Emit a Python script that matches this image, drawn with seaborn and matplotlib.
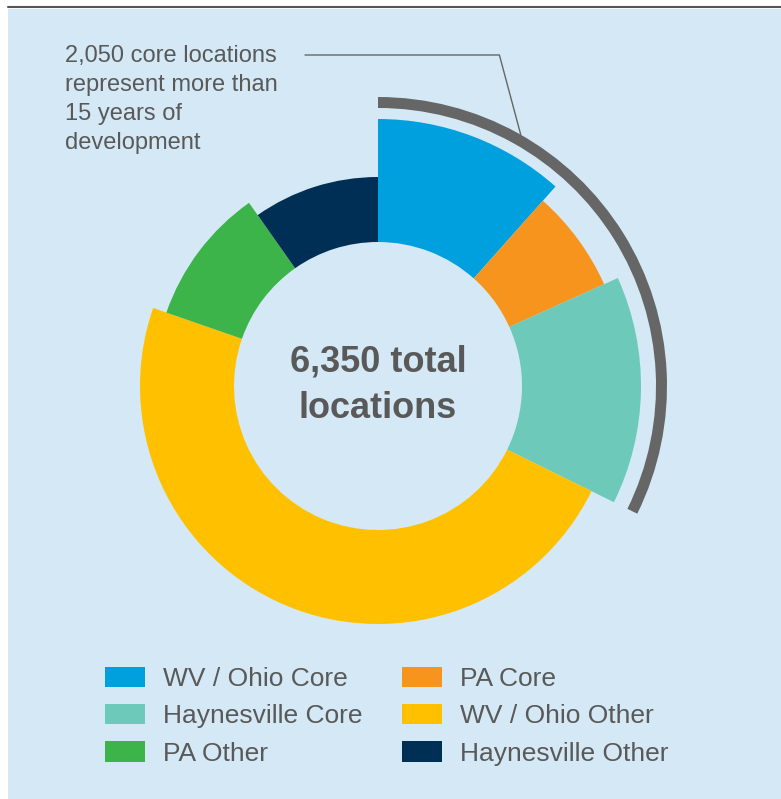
import numpy as np
import matplotlib
matplotlib.use("Agg")
import matplotlib.pyplot as plt
import seaborn as sns
from matplotlib.patches import Patch, Rectangle
from matplotlib.lines import Line2D

# ---- data ----
categories = ["WV / Ohio Core", "PA Core", "Haynesville Core",
              "WV / Ohio Other", "PA Other", "Haynesville Other"]
locations = [735, 425, 890, 3050, 630, 620]
is_core = [True, True, True, False, False, False]
center_label = "6,350 total\nlocations"
note_text = "2,050 core locations\nrepresent more than\n15 years of\ndevelopment"

# ---- styles ----
colors = sns.color_palette(["#00a0df", "#f7941d", "#6dcabb", "#ffc000", "#3cb44a", "#002f56"])
outer_r = [267, 248, 263, 238, 224, 209]
inner_r = 144
text_color = "#595959"

sns.set_theme(style="white")
plt.rcParams["font.family"] = ["Liberation Sans", "DejaVu Sans"]

W, H = 781, 799
fig = plt.figure(figsize=(W / 100, H / 100), dpi=100, facecolor="white")
fig.patches.append(Rectangle((8 / W, 0), 1 - 8 / W, 1 - 9 / H, transform=fig.transFigure,
                             facecolor="#d4e9f5", edgecolor="none", zorder=-5))
fig.add_artist(Line2D([8 / W, 1], [1 - 7 / H, 1 - 7 / H], color="#555555", lw=1.5,
                      transform=fig.transFigure, zorder=-4))

cx, cy, R = 378, 386, 300
ax = fig.add_axes([(cx - R) / W, (H - cy - R) / H, 2 * R / W, 2 * R / H], projection="polar")
ax.set_zorder(2)
ax.set_theta_zero_location("N")
ax.set_theta_direction(-1)
ax.set_ylim(0, R)
ax.set_axis_off()
ax.patch.set_alpha(0)

total = sum(locations)
widths = np.array(locations) / total * 2 * np.pi
starts = np.concatenate([[0], np.cumsum(widths)[:-1]])
ax.bar(starts, np.array(outer_r) - inner_r, width=widths, bottom=inner_r, align="edge",
       color=colors, edgecolor="none", linewidth=0)

core_total = sum(v for v, c in zip(locations, is_core) if c)
core_w = core_total / total * 2 * np.pi
ax.bar([0], [11], width=[core_w], bottom=278, align="edge", color="#666666",
       edgecolor="none", linewidth=0)

ax.annotate("", xy=(np.deg2rad(29.6), 289), xycoords="data",
            xytext=(305, H - 55), textcoords="figure pixels",
            arrowprops=dict(arrowstyle="-", color="#666666", lw=1, shrinkA=0, shrinkB=0,
                            connectionstyle="angle,angleA=0,angleB=105,rad=0"),
            annotation_clip=False)

fig.text(65 / W, 1 - 45 / H, note_text, ha="left", va="top", fontsize=17,
         color=text_color, linespacing=1.42)

fig.text(cx / W, 1 - 385 / H, center_label, ha="center", va="center", fontsize=26,
         fontweight="bold", color=text_color, linespacing=1.44)

order = [0, 2, 4, 1, 3, 5]
handles = [Patch(facecolor=colors[i], edgecolor="none", label=categories[i]) for i in order]
fig.legend(handles=handles, ncol=2, loc="upper left", bbox_to_anchor=(105 / W, 1 - 667 / H),
           frameon=False, fontsize=19, handlelength=1.52, handleheight=0.8,
           handletextpad=0.68, columnspacing=1.48, labelspacing=0.49, borderpad=0,
           borderaxespad=0, labelcolor=text_color)

fig.savefig("out.png", dpi=100, facecolor="white")
